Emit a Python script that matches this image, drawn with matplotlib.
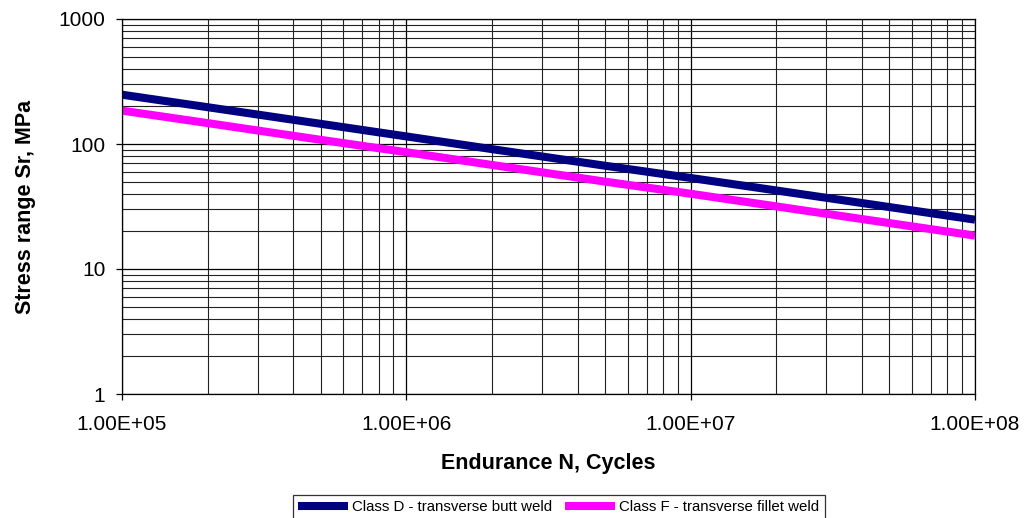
import matplotlib.pyplot as plt
from matplotlib.ticker import FixedLocator, NullFormatter

plt.rcParams['font.family'] = ['Liberation Sans', 'DejaVu Sans']

# endurance (cycles) and stress range (MPa)
cycles = [1e5, 2e5, 5e5, 1e6, 2e6, 5e6, 1e7, 2e7, 5e7, 1e8]
class_d = [248, 197, 145, 115, 91, 67, 53.5, 42.5, 31.3, 24.8]
class_f = [185, 147, 108, 86, 68, 50, 40, 31.7, 23.3, 18.5]

x_ticks = [1e5, 1e6, 1e7, 1e8]
x_labels = ["1.00E+05", "1.00E+06", "1.00E+07", "1.00E+08"]
y_ticks = [1, 10, 100, 1000]
y_labels = ["1", "10", "100", "1000"]

fig = plt.figure(figsize=(10.25, 5.18), dpi=100)
ax = fig.add_axes([122 / 1025, 1 - 394 / 518, (975 - 122) / 1025, (394 - 19) / 518])

ax.plot(cycles, class_d, color='#000080', lw=5.8, label="Class D - transverse butt weld", solid_capstyle='butt')
ax.plot(cycles, class_f, color='#ff00ff', lw=5.8, label="Class F - transverse fillet weld", solid_capstyle='butt')

ax.set_xscale('log')
ax.set_yscale('log')
ax.set_xlim(1e5, 1e8)
ax.set_ylim(1, 1000)

ax.xaxis.set_major_locator(FixedLocator(x_ticks))
ax.set_xticklabels(x_labels)
ax.yaxis.set_major_locator(FixedLocator(y_ticks))
ax.set_yticklabels(y_labels)
minors_x = [m * 10 ** e for e in range(5, 8) for m in range(2, 10)]
minors_y = [m * 10 ** e for e in range(0, 3) for m in range(2, 10)]
ax.xaxis.set_minor_locator(FixedLocator(minors_x))
ax.yaxis.set_minor_locator(FixedLocator(minors_y))
ax.xaxis.set_minor_formatter(NullFormatter())
ax.yaxis.set_minor_formatter(NullFormatter())

ax.grid(True, which='major', color='black', lw=0.9)
ax.grid(True, which='minor', color='#222222', lw=0.8)
ax.set_axisbelow(True)

ax.tick_params(which='major', direction='out', length=4, width=0.9, labelsize=15)
ax.tick_params(axis='x', pad=11)
ax.tick_params(axis='y', pad=8)
ax.tick_params(which='minor', length=0)
for s in ax.spines.values():
    s.set_color('black')
    s.set_linewidth(0.9)

ax.set_xlabel("Endurance N, Cycles", fontsize=15.5, fontweight='bold', labelpad=14)
ax.set_ylabel("Stress range Sr, MPa", fontsize=15.5, fontweight='bold', labelpad=16)

leg = fig.legend(loc='upper left', bbox_to_anchor=(293 / 1025, 1 - 495 / 518), ncol=2, fontsize=10.8,
                 frameon=True, fancybox=False, edgecolor='black', handlelength=3.3,
                 columnspacing=0.85, handletextpad=0.3, borderpad=0.35, borderaxespad=0)
leg.get_frame().set_linewidth(0.9)

fig.savefig("out.png", dpi=100)
